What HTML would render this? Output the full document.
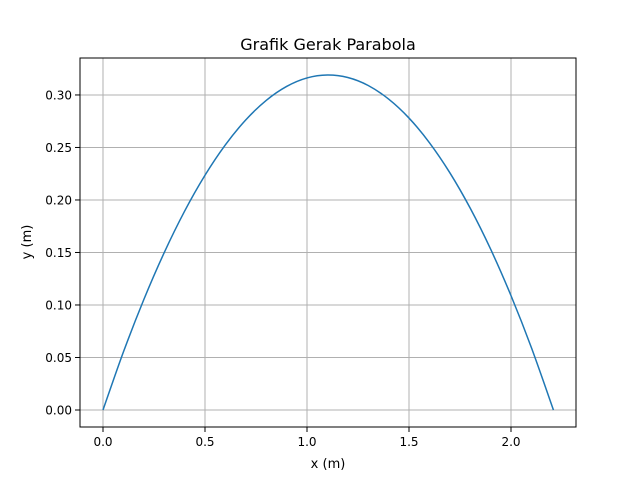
<!DOCTYPE html>
<html><head><meta charset="utf-8"><style>
body{margin:0;background:#fff;font-family:"Liberation Sans","DejaVu Sans",sans-serif;}
svg text{font-family:"DejaVu Sans","Liberation Sans",sans-serif;fill:#000;}
</style></head><body>
<svg id="chart" width="640" height="480" xmlns="http://www.w3.org/2000/svg">
<rect width="640" height="480" fill="#fff"/>
<g id="grid"></g>
<g id="series"></g>
<rect x="80" y="58" width="496" height="369" fill="none" stroke="#000" stroke-width="1"/>
<g id="xticks"></g><g id="yticks"></g>
<text x="328" y="50" font-size="16" text-anchor="middle">Grafik Gerak Parabola</text>
<text x="328" y="468" font-size="13" text-anchor="middle">x (m)</text>
<text transform="translate(31,242) rotate(-90)" font-size="13" text-anchor="middle">y (m)</text>
</svg>
<script>
const xValues=[0,0.1,0.2,0.3,0.4,0.5,0.6,0.7,0.8,0.9,1.0,1.1,1.2,1.3,1.4,1.5,1.6,1.7,1.8,1.9,2.0,2.1,2.208];
const yValues=[0,0.0552,0.1051,0.1498,0.1893,0.2235,0.2525,0.2763,0.2948,0.3081,0.3162,0.3190,0.3166,0.3090,0.2961,0.2780,0.2546,0.2260,0.1922,0.1532,0.1089,0.0594,0];
const xTicks=[0,0.5,1.0,1.5,2.0];
const xTickLabels=["0.0","0.5","1.0","1.5","2.0"];
const yTicks=[0,0.05,0.10,0.15,0.20,0.25,0.30];
const yTickLabels=["0.00","0.05","0.10","0.15","0.20","0.25","0.30"];
const X0=80,X1=576,Y0=58,Y1=427;
const xmin=-0.1127,xmax=2.3186,ymin=-0.0162,ymax=0.3352;
const sx=v=>X0+(v-xmin)/(xmax-xmin)*(X1-X0);
const sy=v=>Y1-(v-ymin)/(ymax-ymin)*(Y1-Y0);
const NS="http://www.w3.org/2000/svg";
function mk(tag,attrs,parent){const e=document.createElementNS(NS,tag);for(const k in attrs)e.setAttribute(k,attrs[k]);document.getElementById(parent).appendChild(e);return e;}
xTicks.forEach((t,i)=>{const x=sx(t);
 const g=mk('line',{x1:x,x2:x,y1:Y0,y2:Y1,stroke:'#b0b0b0','stroke-width':1},'grid');
 
 
 const tk=mk('line',{x1:x,x2:x,y1:Y1,y2:Y1+5,stroke:'#000'},'xticks');
 
 
 const tx=mk('text',{x:x,y:Y1+19,'font-size':12,'text-anchor':'middle'},'xticks');
 tx.textContent=xTickLabels[i];
 
 
});
yTicks.forEach((t,i)=>{const y=sy(t);
 const g=mk('line',{x1:X0,x2:X1,y1:y,y2:y,stroke:'#b0b0b0','stroke-width':1},'grid');
 
 
 const tk=mk('line',{x1:X0-5,x2:X0,y1:y,y2:y,stroke:'#000'},'yticks');
 
 
 const tx=mk('text',{x:X0-8,y:y+4.5,'font-size':12,'text-anchor':'end'},'yticks');
 tx.textContent=yTickLabels[i];
 
 
});
const P=xValues.map((x,i)=>[sx(x),sy(yValues[i])]);
let d='M'+P[0][0].toFixed(2)+','+P[0][1].toFixed(2);
for(let i=0;i<P.length-1;i++){
 const p0=P[Math.max(i-1,0)],p1=P[i],p2=P[i+1],p3=P[Math.min(i+2,P.length-1)];
 const c1x=p1[0]+(p2[0]-p0[0])/6,c1y=p1[1]+(p2[1]-p0[1])/6;
 const c2x=p2[0]-(p3[0]-p1[0])/6,c2y=p2[1]-(p3[1]-p1[1])/6;
 d+=' C'+c1x.toFixed(2)+','+c1y.toFixed(2)+' '+c2x.toFixed(2)+','+c2y.toFixed(2)+' '+p2[0].toFixed(2)+','+p2[1].toFixed(2);
}
const pl=mk('path',{d:d,fill:'none',stroke:'#1f77b4','stroke-width':1.5,'stroke-linejoin':'round'},'series');


</script>
</body></html>
